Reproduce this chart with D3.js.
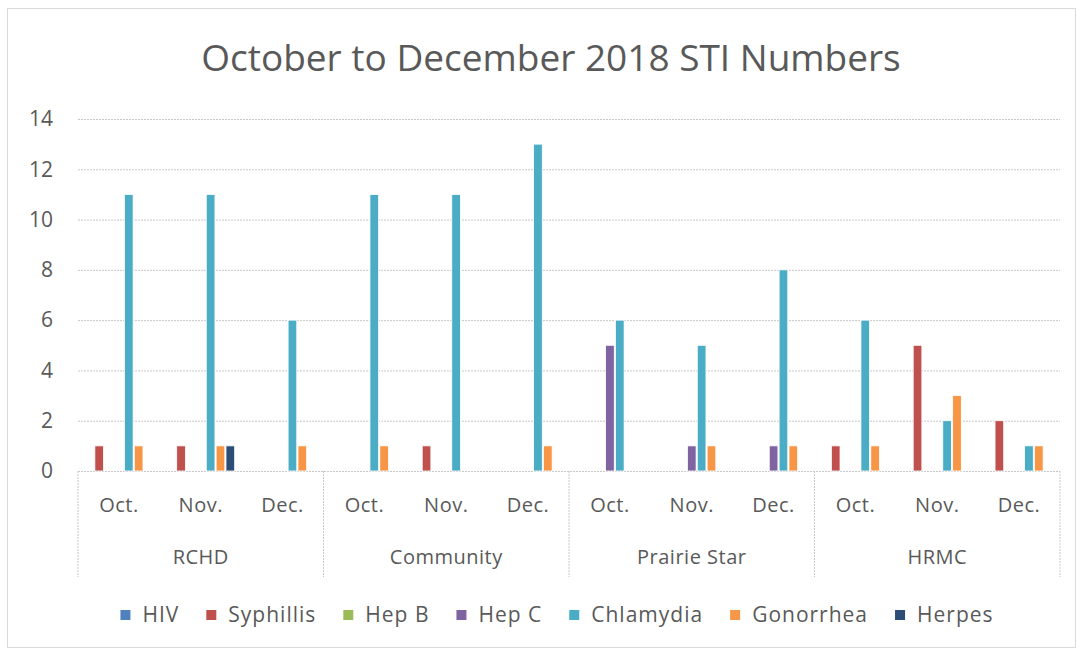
<!DOCTYPE html>
<html>
<head>
<meta charset="utf-8">
<script src="https://cdn.jsdelivr.net/npm/d3@7"></script>
<style>
  body { margin: 0; background: #fff; }
  svg text { font-family: "Open Sans", Lato, sans-serif; fill: #595959; }
</style>
</head>
<body>
<svg id="chart" width="1083" height="655"></svg>
<script>
// chart data
const groups = ['RCHD', 'Community', 'Prairie Star', 'HRMC'];
const months = ['Oct.', 'Nov.', 'Dec.'];
const seriesNames = ['HIV', 'Syphillis', 'Hep B', 'Hep C', 'Chlamydia', 'Gonorrhea', 'Herpes'];
const seriesColors = ['#4F81BD', '#C0504D', '#9BBB59', '#8064A2', '#4BACC6', '#F79646', '#2C4D75'];
// one array per series, 12 values (group x month)
const hiv       = [0, 0, 0,  0, 0, 0,  0, 0, 0,  0, 0, 0];
const syphillis = [1, 1, 0,  0, 1, 0,  0, 0, 0,  1, 5, 2];
const hepB      = [0, 0, 0,  0, 0, 0,  0, 0, 0,  0, 0, 0];
const hepC      = [0, 0, 0,  0, 0, 0,  5, 1, 1,  0, 0, 0];
const chlamydia = [11, 11, 6, 11, 11, 13, 6, 5, 8, 6, 2, 1];
const gonorrhea = [1, 1, 1,  1, 0, 1,  0, 1, 1,  1, 3, 1];
const herpes    = [0, 1, 0,  0, 0, 0,  0, 0, 0,  0, 0, 0];
const yTicks = [0, 2, 4, 6, 8, 10, 12, 14];

const seriesValues = [hiv, syphillis, hepB, hepC, chlamydia, gonorrhea, herpes];

const svg = d3.select('#chart');
const margin = { left: 78, right: 23, top: 119, bottom: 184 };
const width = +svg.attr('width');
const height = +svg.attr('height');
const innerWidth = width - margin.left - margin.right;
const innerHeight = height - margin.top - margin.bottom;

// outer border
svg.append('rect')
  .attr('x', 7.5).attr('y', 8.5)
  .attr('width', 1068).attr('height', 639)
  .attr('fill', 'none')
  .attr('stroke', '#d9d9d9');

// title
svg.append('text')
  .attr('x', 551).attr('y', 71)
  .attr('text-anchor', 'middle')
  .style('font-size', '37px')
  .text('October to December 2018 STI Numbers');

const chart = svg.append('g')
  .attr('transform', `translate(${margin.left},${margin.top})`);

// categories: group|month
const cats = [];
groups.forEach(g => months.forEach(m => cats.push(g + '|' + m)));

const xScale = d3.scaleBand().domain(cats).range([0, innerWidth]);
const xSub = d3.scaleBand()
  .domain(seriesNames)
  .range([7, xScale.bandwidth() - 7])
  .paddingInner(0.12);
const yScale = d3.scaleLinear().domain([0, 14]).range([innerHeight, 0]);

// gridlines + value labels
const yAxis = d3.axisLeft(yScale).tickValues(yTicks).tickSize(-innerWidth).tickPadding(25);
const yAxisG = chart.append('g').call(yAxis);
yAxisG.select('.domain').remove();
yAxisG.selectAll('line')
  .attr('stroke', '#c8c8c8')
  .attr('stroke-dasharray', '2,1');
yAxisG.selectAll('text')
  .style('font-size', '21px')
  .attr('fill', '#595959');

// bars
const barData = [];
seriesNames.forEach((s, si) => {
  seriesValues[si].forEach((v, ci) => {
    if (v > 0) barData.push({ series: s, color: seriesColors[si], cat: cats[ci], value: v });
  });
});

chart.selectAll('rect.bar')
  .data(barData)
  .join('rect')
  .attr('class', 'bar')
  .attr('x', d => xScale(d.cat) + xSub(d.series))
  .attr('y', d => yScale(d.value))
  .attr('width', xSub.bandwidth())
  .attr('height', d => innerHeight - yScale(d.value))
  .attr('fill', d => d.color)
  .attr('stroke', '#fff')
  .attr('stroke-width', 0.8);

// category axis: month labels
chart.selectAll('text.month')
  .data(cats)
  .join('text')
  .attr('class', 'month')
  .attr('x', d => xScale(d) + xScale.bandwidth() / 2)
  .attr('y', innerHeight + 41)
  .attr('text-anchor', 'middle')
  .style('font-size', '20px')
  .style('letter-spacing', '0.5px')
  .text(d => d.split('|')[1]);

// group labels
const groupWidth = xScale.bandwidth() * months.length;
chart.selectAll('text.group')
  .data(groups)
  .join('text')
  .attr('class', 'group')
  .attr('x', d => xScale(d + '|' + months[0]) + groupWidth / 2)
  .attr('y', innerHeight + 93)
  .attr('text-anchor', 'middle')
  .style('font-size', '20px')
  .style('letter-spacing', '0.5px')
  .text(d => d);

// group separators
const seps = groups.map(g => xScale(g + '|' + months[0])).concat([innerWidth]);
chart.selectAll('line.sep')
  .data(seps)
  .join('line')
  .attr('class', 'sep')
  .attr('x1', d => d).attr('x2', d => d)
  .attr('y1', innerHeight).attr('y2', innerHeight + 106)
  .attr('stroke', '#c8c8c8')
  .attr('stroke-dasharray', '2,1');

// legend
const legend = svg.append('g').attr('transform', 'translate(0,615)');
const items = legend.selectAll('g.item')
  .data(seriesNames)
  .join('g')
  .attr('class', 'item');
items.append('rect')
  .attr('width', 10).attr('height', 10)
  .attr('y', -5)
  .attr('fill', (d, i) => seriesColors[i]);
items.append('text')
  .attr('x', 22)
  .attr('dy', '0.35em')
  .style('font-size', '21px')
  .style('letter-spacing', '1px')
  .text(d => d);

let widths = [];
items.each(function () {
  widths.push(22 + this.querySelector('text').getComputedTextLength());
});
const gap = 27;
const total = d3.sum(widths) + gap * (widths.length - 1);
let cursor = 557 - total / 2;
items.attr('transform', (d, i) => {
  const x = cursor;
  cursor += widths[i] + gap;
  return `translate(${x},0)`;
});
</script>
</body>
</html>
